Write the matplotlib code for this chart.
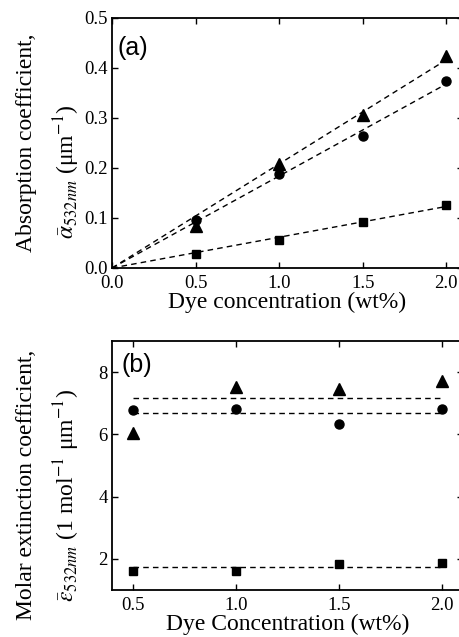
import matplotlib
matplotlib.use("Agg")
from matplotlib import pyplot as plt
import numpy as np

plt.rcParams['font.family'] = ['Liberation Serif', 'DejaVu Serif']
plt.rcParams['mathtext.fontset'] = 'stix'

# panel (a): absorption coefficient vs dye concentration
conc = np.array([0.5, 1.0, 1.5, 2.0])
alpha_tri = np.array([0.085, 0.208, 0.307, 0.425])
alpha_cir = np.array([0.096, 0.188, 0.264, 0.374])
alpha_sq = np.array([0.028, 0.056, 0.093, 0.126])

# panel (b): molar extinction coefficient
eps_tri = np.array([6.03, 7.52, 7.45, 7.72])
eps_cir = np.array([6.78, 6.80, 6.33, 6.80])
eps_sq = np.array([1.60, 1.62, 1.82, 1.86])

W, H = 460, 637
fig = plt.figure(figsize=(W / 100, H / 100), dpi=100)

def px_axes(l, t, r, b):
    return fig.add_axes([l / W, 1 - b / H, (r - l) / W, (b - t) / H])

def style(ax):
    ax.tick_params(direction='in', top=True, right=True, length=4.5, width=1,
                   labelsize=13.5, pad=3)
    ax.tick_params(axis='x', pad=5)
    for s in ax.spines.values():
        s.set_linewidth(1.3)

marks = [('^', 8.5), ('o', 6.5), ('s', 6)]

ax1 = px_axes(112, 18, 463, 268)
style(ax1)
xs = np.array([0.0, 2.0])
for y, (m, ms) in zip([alpha_tri, alpha_cir, alpha_sq], marks):
    slope = np.sum(conc * y) / np.sum(conc ** 2)
    ax1.plot(xs, slope * xs, color='black', linestyle=(0, (4, 3)), linewidth=1)
    ax1.plot(conc, y, linestyle='none', marker=m, markersize=ms, color='black')
ax1.set_xlim(0, 2.1)
ax1.set_ylim(0, 0.5)
ax1.set_xticks([0.0, 0.5, 1.0, 1.5, 2.0])
ax1.set_yticks([0.0, 0.1, 0.2, 0.3, 0.4, 0.5])
ax1.xaxis.set_major_formatter(matplotlib.ticker.FormatStrFormatter('%.1f'))
ax1.yaxis.set_major_formatter(matplotlib.ticker.FormatStrFormatter('%.1f'))
ax1.set_xlabel('Dye concentration (wt%)', fontsize=17, labelpad=0)
ax1.text(0.017, 0.93, '(a)', transform=ax1.transAxes, fontsize=18,
         family='Liberation Sans', va='top', ha='left')

ax2 = px_axes(112, 341, 463, 590)
style(ax2)
for y, (m, ms) in zip([eps_tri, eps_cir, eps_sq], marks):
    mean = y.mean()
    ax2.plot([0.5, 2.0], [mean, mean], color='black', linestyle=(0, (4, 3)), linewidth=1)
    ax2.plot(conc, y, linestyle='none', marker=m, markersize=ms, color='black')
ax2.set_xlim(0.4, 2.1)
ax2.set_ylim(1.0, 9.0)
ax2.set_xticks([0.5, 1.0, 1.5, 2.0])
ax2.set_yticks([2, 4, 6, 8])
ax2.xaxis.set_major_formatter(matplotlib.ticker.FormatStrFormatter('%.1f'))
ax2.set_xlabel('Dye Concentration (wt%)', fontsize=17, labelpad=0)
ax2.text(0.028, 0.95, '(b)', transform=ax2.transAxes, fontsize=18,
         family='Liberation Sans', va='top', ha='left')

# two-line y labels
fig.text(27 / W, 1 - 143 / H, 'Absorption coefficient,', rotation=90,
         fontsize=17, ha='center', va='center')
fig.text(67 / W, 1 - 172 / H, r'$\bar{\alpha}_{532nm}$ (μm$^{-1}$)', rotation=90,
         fontsize=17, ha='center', va='center')
fig.text(27 / W, 1 - 485 / H, 'Molar extinction coefficient,', rotation=90,
         fontsize=17, ha='center', va='center')
fig.text(67 / W, 1 - 495 / H, r'$\bar{\varepsilon}_{532nm}$ (1 mol$^{-1}$ μm$^{-1}$)',
         rotation=90, fontsize=17, ha='center', va='center')

fig.savefig('out.png', dpi=100)
